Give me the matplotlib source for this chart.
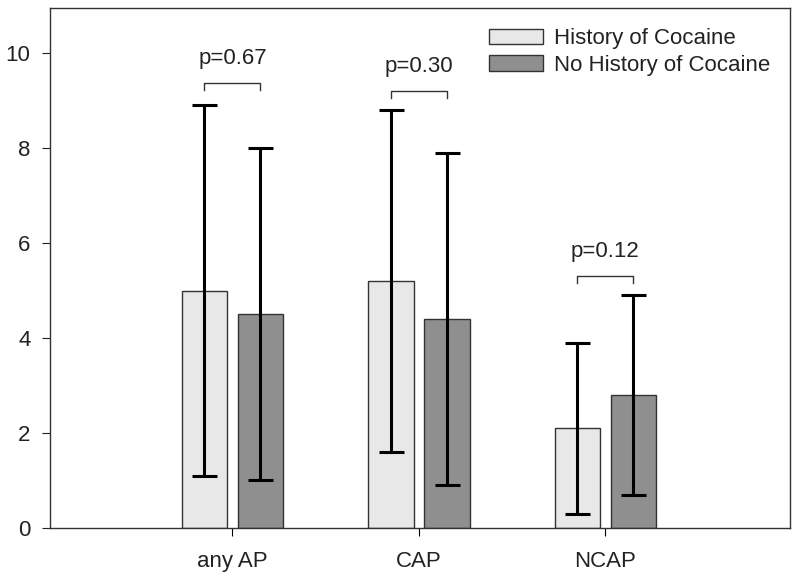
import numpy as np
import matplotlib
matplotlib.use("Agg")
import matplotlib.pyplot as plt
from matplotlib.patches import Patch

plt.rcParams['font.family'] = ['Liberation Sans', 'DejaVu Sans']

categories = ["any AP", "CAP", "NCAP"]
hist_mean = [5.0, 5.2, 2.1]
hist_low = [1.1, 1.6, 0.3]
hist_high = [8.9, 8.8, 3.9]
nohist_mean = [4.5, 4.4, 2.8]
nohist_low = [1.0, 0.9, 0.7]
nohist_high = [8.0, 7.9, 4.9]
p_labels = ["p=0.67", "p=0.30", "p=0.12"]
bracket_y = [9.37, 9.2, 5.3]

light = '#e8e8e8'
dark = '#8f8f8f'
txt = '#222222'

fig = plt.figure(figsize=(8, 5.8), dpi=100)
ax = fig.add_axes([0.0625, 0.09, 0.925, 0.896])

x = np.arange(1, len(categories) + 1)
off = 0.15
w = 0.245

ax.bar(x - off, hist_mean, w, color=light, edgecolor='#333333', linewidth=1.0, zorder=2)
ax.bar(x + off, nohist_mean, w, color=dark, edgecolor='#333333', linewidth=1.0, zorder=2)

hm = np.array(hist_mean)
nm = np.array(nohist_mean)
ax.errorbar(x - off, hm, yerr=[hm - np.array(hist_low), np.array(hist_high) - hm],
            fmt='none', ecolor='black', elinewidth=2.2, capsize=9, capthick=2.2, zorder=3)
ax.errorbar(x + off, nm, yerr=[nm - np.array(nohist_low), np.array(nohist_high) - nm],
            fmt='none', ecolor='black', elinewidth=2.2, capsize=9, capthick=2.2, zorder=3)

# significance brackets
for i in range(len(categories)):
    x0 = x[i] - off
    x1 = x[i] + off
    y = bracket_y[i]
    ax.plot([x0, x0, x1, x1], [y - 0.15, y, y, y - 0.15], color='#333333', linewidth=1.0)
    ax.text(x[i], y + 0.3, p_labels[i], ha='center', va='bottom', fontsize=16, color=txt)

ax.set_xlim(0.022, 3.99)
ax.set_ylim(0, 10.95)
ax.set_xticks(x)
ax.set_xticklabels(categories, fontsize=16, color=txt)
ax.set_yticks([0, 2, 4, 6, 8, 10])
ax.tick_params(axis='y', labelsize=16, colors=txt, length=6, pad=8)
ax.tick_params(axis='x', length=6, pad=11)
for s in ax.spines.values():
    s.set_color('#333333')
    s.set_linewidth(1.0)

handles = [Patch(facecolor=light, edgecolor='#333333', label='History of Cocaine'),
           Patch(facecolor=dark, edgecolor='#333333', label='No History of Cocaine')]
leg = ax.legend(handles=handles, loc='upper right', frameon=False, fontsize=16,
                handlelength=2.4, handleheight=0.68, handletextpad=0.5,
                borderaxespad=0.5, labelspacing=0.25)
for t in leg.get_texts():
    t.set_color(txt)

fig.savefig("out.png", dpi=100)
